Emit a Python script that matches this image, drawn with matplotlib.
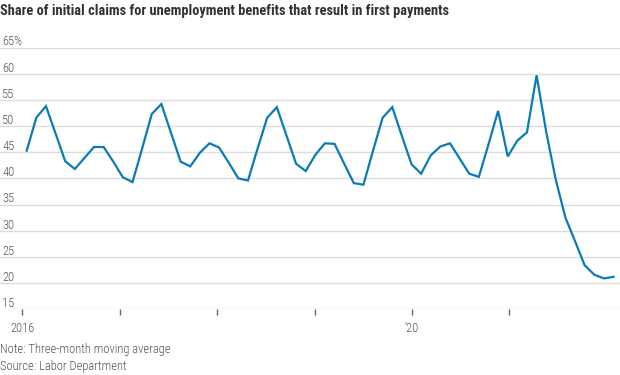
import matplotlib
matplotlib.use("Agg")
import matplotlib.pyplot as plt
import matplotlib.transforms as mtransforms
import numpy as np

# three-month moving average, percent
share = [45.3, 51.6, 53.8, 48.6, 43.3, 41.8, 43.9, 46.0, 46.0, 43.2,
         40.2, 39.3, 45.7, 52.3, 54.2, 48.7, 43.2, 42.3, 44.9, 46.7,
         45.9, 43.0, 40.0, 39.6, 45.7, 51.6, 53.6, 48.2, 42.8, 41.4,
         44.5, 46.7, 46.6, 42.8, 39.1, 38.8, 45.3, 51.6, 53.6, 48.1,
         42.7, 40.9, 44.4, 46.1, 46.7, 43.8, 40.9, 40.3, 46.5, 52.9,
         44.2, 47.2, 48.8, 59.7, 48.9, 39.7, 32.5, 28.0, 23.4, 21.6,
         20.9, 21.2]
period = np.arange(len(share))

y_ticks = [15, 20, 25, 30, 35, 40, 45, 50, 55, 60, 65]
y_labels = ['15', '20', '25', '30', '35', '40', '45', '50', '55', '60', '65%']
x_ticks = [-0.46, 9.7, 19.78, 29.94, 40.05, 50.17]
x_labels = ['2016', '', '', '', '\u201920', '']

title = 'Share of initial claims for unemployment benefits that result in first payments'
note = 'Note: Three-month moving average'
source = 'Source: Labor Department'

plt.rcParams['font.family'] = ['Roboto Condensed', 'DejaVu Sans']

fig = plt.figure(figsize=(6.2, 3.75), dpi=100)
fig.patch.set_facecolor('white')
ax = fig.add_axes([0, 0.1752, 1, 0.6981])

ax.plot(period, share, color='#0b7bb5', lw=1.6, solid_joinstyle='miter', zorder=3)

ax.set_xlim(-2.775, 61.67)
ax.set_ylim(15, 65)

for v in y_ticks:
    ax.axhline(v, color='#dcdcdc', lw=1, zorder=1)
# y labels sit just above their gridlines, at the left edge
trans = mtransforms.blended_transform_factory(ax.transAxes, ax.transData)
for v, lab in zip(y_ticks, y_labels):
    ax.text(0.004, v + 0.4, lab, transform=trans, ha='left', va='baseline',
            fontsize=9, fontweight='light', color='#555555')

for side in ['top', 'right', 'left', 'bottom']:
    ax.spines[side].set_visible(False)
ax.set_yticks([])
ax.set_xticks(x_ticks)
ax.set_xticklabels(x_labels, fontweight='light')
ax.tick_params(axis='x', length=4, width=1, color='#666666', pad=5,
               labelsize=9, labelcolor='#555555')

fig.text(0.0, 0.99, title, ha='left', va='top', fontsize=10.4,
         fontweight='bold', color='#333333')
fig.text(0.0, 0.068, note, ha='left', va='center', fontsize=9,
         fontweight='light', color='#555555')
fig.text(0.0, 0.022, source, ha='left', va='center', fontsize=9,
         fontweight='light', color='#555555')

fig.savefig('out.png', dpi=100, facecolor='white')
